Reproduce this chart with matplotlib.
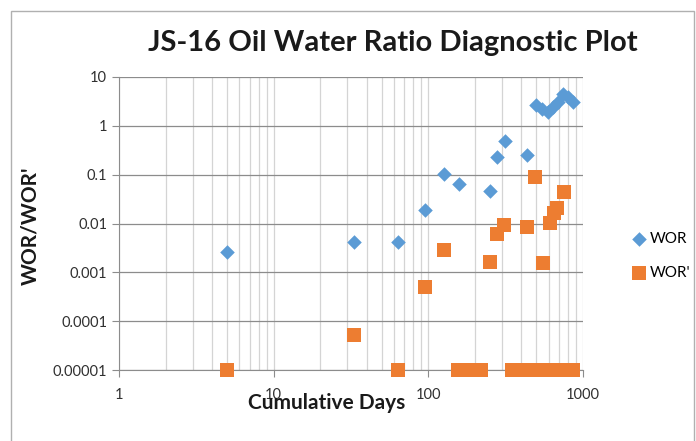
import numpy as np
import matplotlib.pyplot as plt
from matplotlib.patches import Rectangle

# cumulative days and water-oil ratio
wor_days = [5, 33, 64, 95, 127, 157, 250, 279, 311, 434, 494, 540, 590, 642, 692, 745, 795, 857]
wor = [0.0026, 0.0041, 0.0041, 0.0187, 0.101, 0.063, 0.047, 0.23, 0.50, 0.248,
       2.68, 2.19, 1.93, 2.48, 3.13, 4.43, 3.85, 3.09]

# derivative WOR' (zero values shown at the 1e-5 floor)
dwor_days = [5, 33, 64, 95, 127, 156, 188, 200, 218, 250, 279, 310, 345, 365, 385, 410,
             434, 460, 490, 520, 550, 560, 590, 612, 650, 680, 710, 750, 790, 830, 860]
dwor = [1e-5, 5.2e-5, 1e-5, 0.00049, 0.00285, 1e-5, 1e-5, 1e-5, 1e-5, 0.00162, 0.0062, 0.0092,
        1e-5, 1e-5, 1e-5, 1e-5, 0.0084, 1e-5, 0.091, 1e-5, 0.00153, 1e-5, 1e-5, 0.0101,
        0.0166, 0.0204, 1e-5, 0.044, 1e-5, 1e-5, 1e-5]

xticks = [1, 10, 100, 1000]
yticks = [0.00001, 0.0001, 0.001, 0.01, 0.1, 1, 10]
ylabels = ['0.00001', '0.0001', '0.001', '0.01', '0.1', '1', '10']

BLUE = '#5B9BD5'
ORANGE = '#ED7D31'
FONT = 'Lato'

fig = plt.figure(figsize=(6.96, 4.41), dpi=100)
W, H = 696, 441
ax = fig.add_axes([119 / W, 71 / H, 464 / W, 293 / H])

ax.set_xscale('log')
ax.set_yscale('log')
ax.set_xlim(1, 1000)
ax.set_ylim(1e-5, 10)

ax.grid(True, which='major', axis='y', color='#8c8c8c', lw=0.9)
ax.grid(True, which='both', axis='x', color='#d4d4d4', lw=0.9)
ax.set_axisbelow(True)

ax.scatter(wor_days, wor, marker='D', s=55, color=BLUE, lw=0, zorder=3, label='WOR')
ax.scatter(dwor_days, dwor, marker='s', s=95, color=ORANGE, lw=0, zorder=3, label="WOR'",
           clip_on=False)

ax.set_xticks(xticks)
ax.set_xticklabels([str(v) for v in xticks])
ax.set_yticks(yticks)
ax.set_yticklabels(ylabels)
ax.minorticks_off()
ax.xaxis.set_minor_locator(plt.matplotlib.ticker.LogLocator(base=10, subs=np.arange(2, 10)))
ax.xaxis.set_minor_formatter(plt.NullFormatter())
ax.tick_params(axis='x', which='minor', length=0)
ax.tick_params(axis='both', which='major', length=5, color='#8c8c8c', labelsize=10.5,
               labelcolor='#303030')
ax.tick_params(axis='x', which='major', pad=8)
for lab in ax.get_xticklabels() + ax.get_yticklabels():
    lab.set_family(FONT)

for s in ['top', 'right']:
    ax.spines[s].set_visible(False)
for s in ['left', 'bottom']:
    ax.spines[s].set_color('#8c8c8c')

fig.text(393 / W, 1 - 43 / H, 'JS-16 Oil Water Ratio Diagnostic Plot', ha='center', va='center',
         fontsize=21, fontweight='bold', family=FONT, color='#1a1a1a')
fig.text(30 / W, 1 - 226 / H, "WOR/WOR'", rotation=90, ha='center', va='center',
         fontsize=15, fontweight='bold', family=FONT, color='#1a1a1a')
fig.text(327 / W, 1 - 403 / H, 'Cumulative Days', ha='center', va='center',
         fontsize=15, fontweight='bold', family=FONT, color='#1a1a1a')

fig.legend(loc='center left', bbox_to_anchor=(622 / W, 1 - 256 / H), frameon=False,
           prop={'family': FONT, 'size': 11}, labelspacing=1.3, handletextpad=0.1,
           handlelength=1.2, borderpad=0)

fig.patches.append(Rectangle((11 / W, -0.05), 683 / W, 1 - 11 / H + 0.05, transform=fig.transFigure,
                             fill=False, edgecolor='#b0b0b0', lw=1))

fig.savefig('out.png', dpi=100)
